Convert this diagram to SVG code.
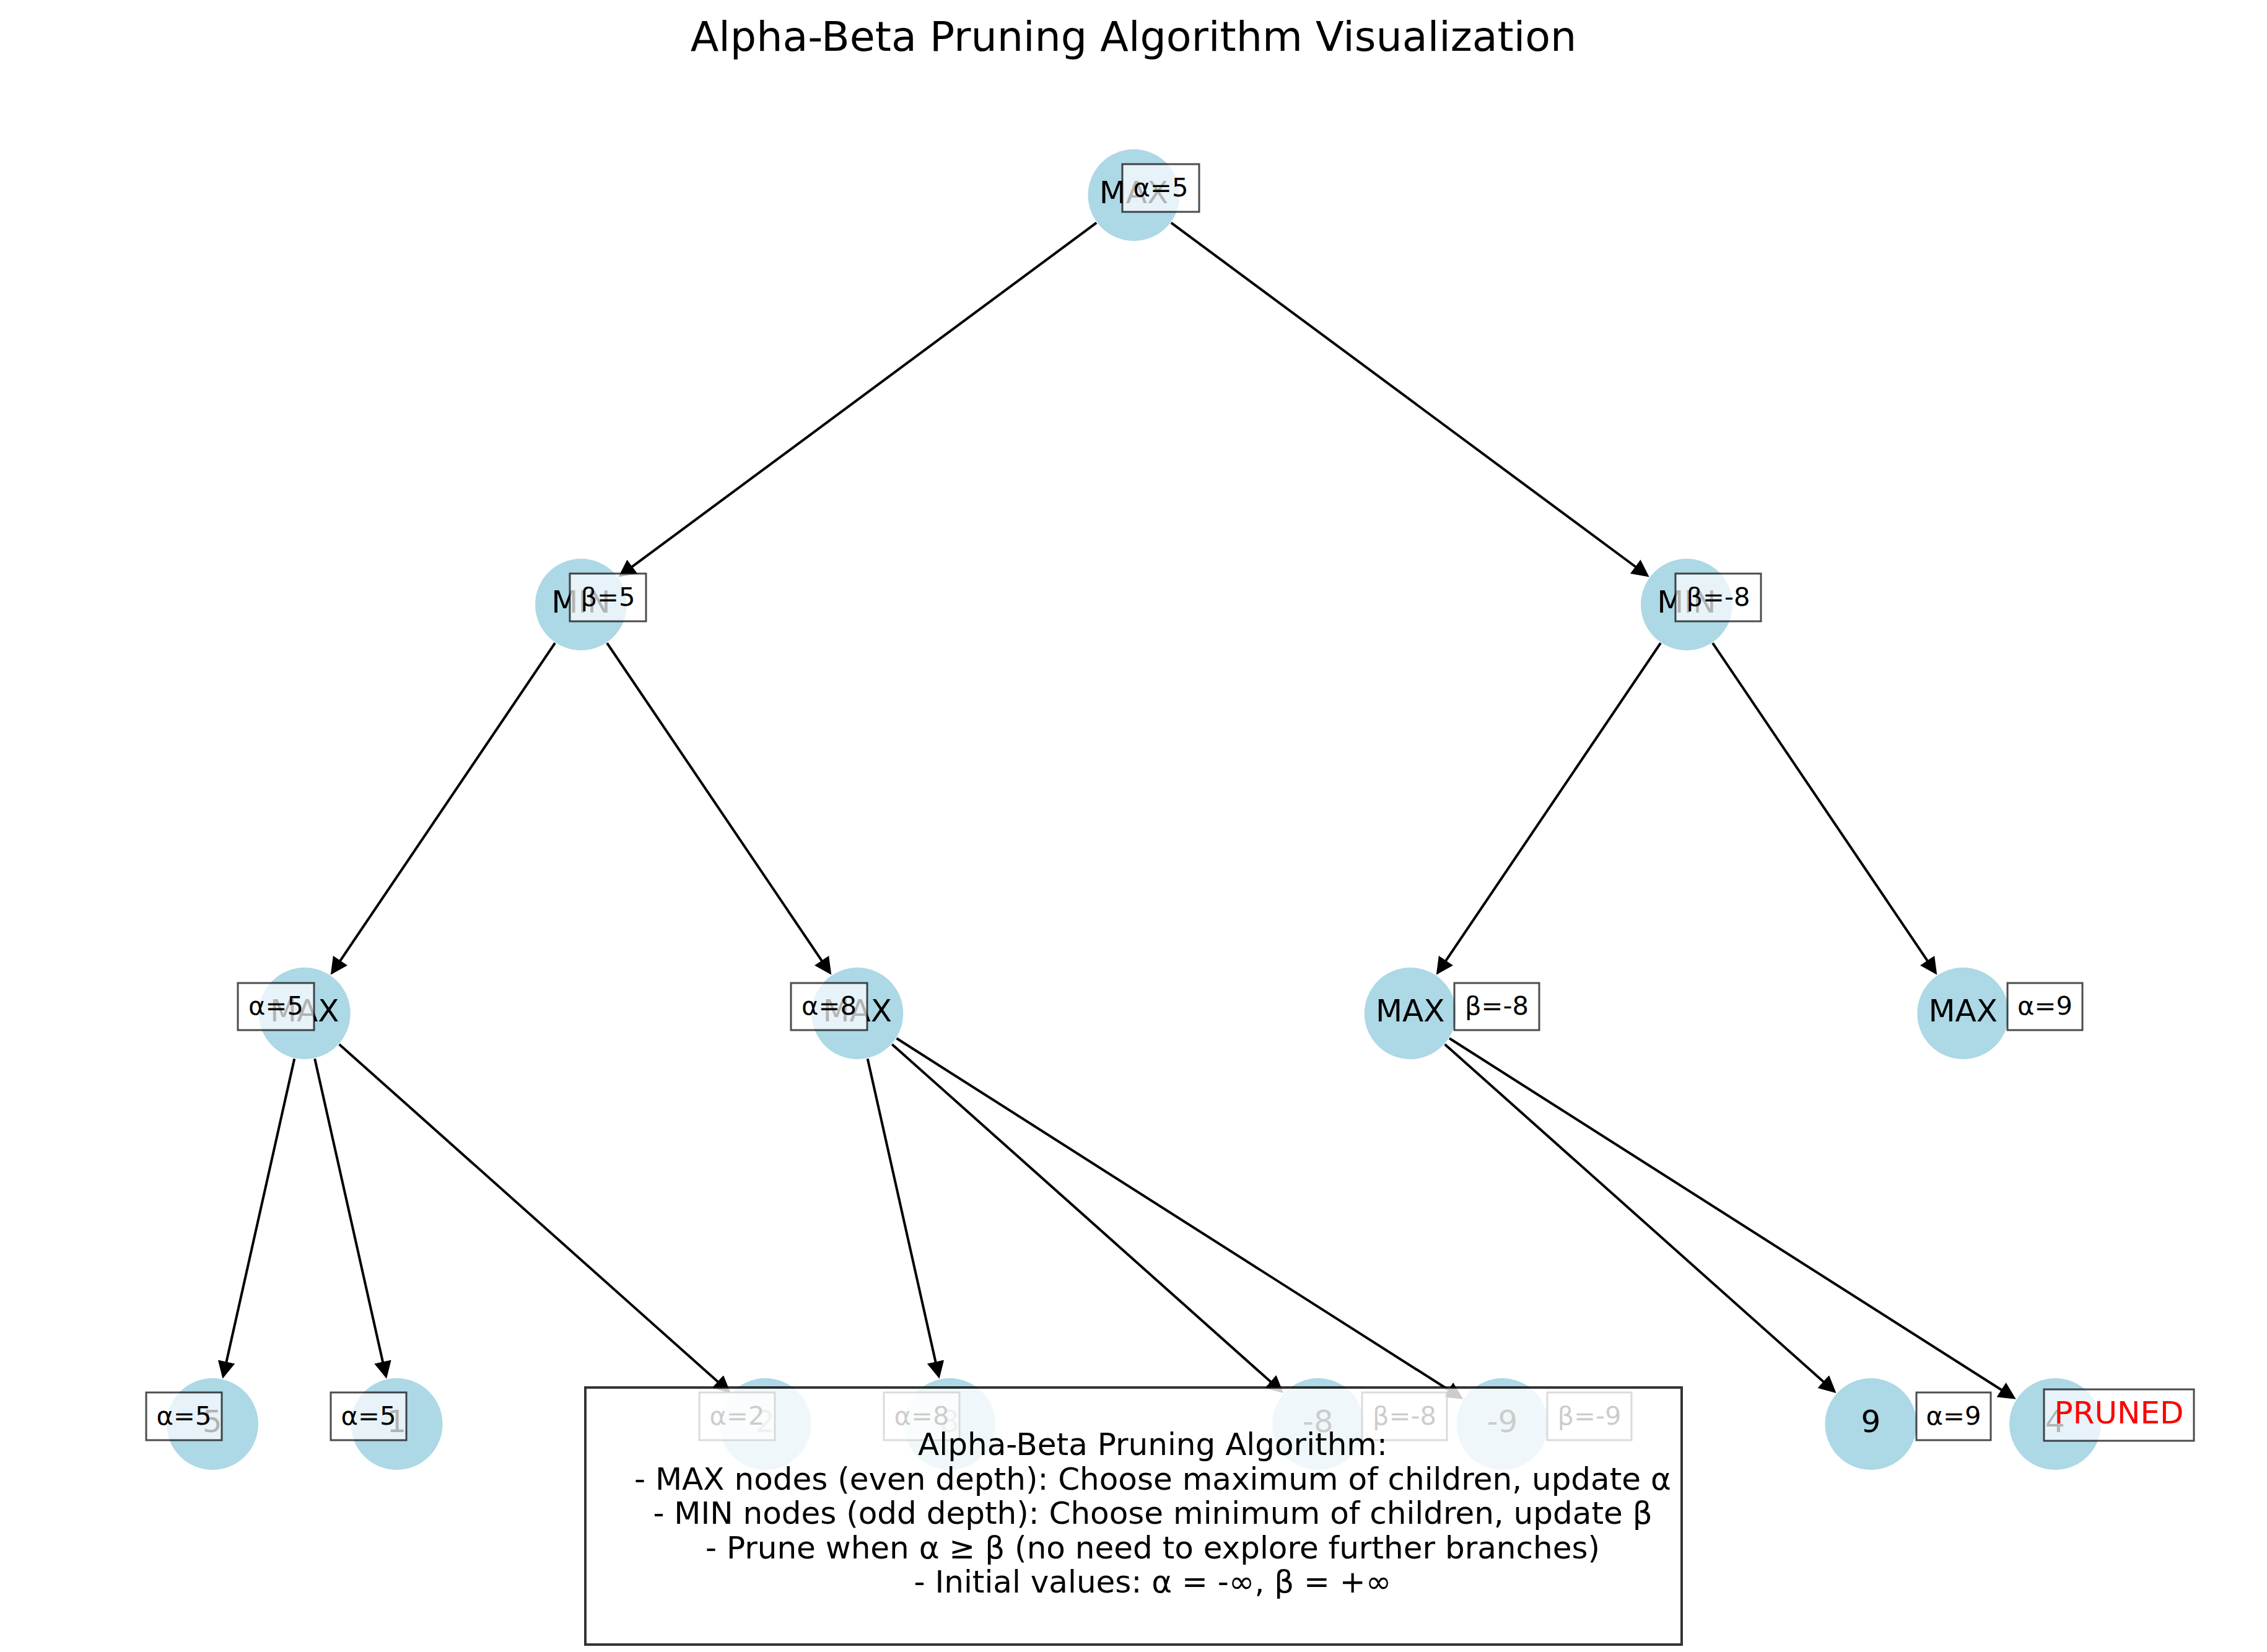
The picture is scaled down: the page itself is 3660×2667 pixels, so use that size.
<svg xmlns="http://www.w3.org/2000/svg" width="3660" height="2667" viewBox="0 0 3660 2667">
<style>
text{font-family:"DejaVu Sans","Liberation Sans",sans-serif;text-anchor:middle;fill:#000}
.nd{fill:#ADD8E6}
.lbl{font-size:50px}
.val{font-size:41.67px}
.box{fill:#fff;fill-opacity:0.7;stroke:#000;stroke-opacity:0.7;stroke-width:3}
.edge{stroke:#000;stroke-width:4;fill:none;marker-end:url(#ah)}
.title{font-size:66.7px}
.leg{font-size:50px}
</style>
<defs>
<marker id="ah" markerUnits="userSpaceOnUse" markerWidth="28" markerHeight="28" viewBox="0 -14 28 28" refX="8" refY="0" orient="auto">
<path d="M0,-14 L28,0 L0,14 Z" fill="#000"/>
</marker>
</defs>
<rect x="0" y="0" width="3660" height="2667" fill="#fff"/>
<text class="title" x="1830" y="82">Alpha-Beta Pruning Algorithm Visualization</text>
<g id="edges">
<line class="edge" x1="1770.2" y1="359.6" x2="1014.4" y2="919.5"/>
<line class="edge" x1="1890.8" y1="359.6" x2="2646.6" y2="919.5"/>
<line class="edge" x1="896.0" y1="1038.1" x2="545.0" y2="1557.3"/>
<line class="edge" x1="980.0" y1="1038.1" x2="1331.0" y2="1557.3"/>
<line class="edge" x1="2681.0" y1="1038.1" x2="2330.0" y2="1557.3"/>
<line class="edge" x1="2765.0" y1="1038.1" x2="3116.0" y2="1557.3"/>
<line class="edge" x1="475.3" y1="1709.2" x2="363.8" y2="2206.3"/>
<line class="edge" x1="508.2" y1="1709.2" x2="619.7" y2="2206.3"/>
<line class="edge" x1="547.7" y1="1685.9" x2="1164.6" y2="2235.8"/>
<line class="edge" x1="1400.7" y1="1709.2" x2="1512.2" y2="2206.3"/>
<line class="edge" x1="1440.2" y1="1685.9" x2="2057.1" y2="2235.8"/>
<line class="edge" x1="1447.5" y1="1676.3" x2="2345.3" y2="2248.0"/>
<line class="edge" x1="2332.7" y1="1685.9" x2="2949.6" y2="2235.8"/>
<line class="edge" x1="2340.0" y1="1676.3" x2="3237.8" y2="2248.0"/>
</g>
<g id="n-root">
<circle class="nd" cx="1830.5" cy="315" r="74"/>
<text class="lbl" x="1830.5" y="328">MAX</text>
<rect class="box" x="1812" y="265" width="124" height="77"/>
<text class="val" x="1874" y="317">α=5</text>
</g>
<g id="n-min-l">
<circle class="nd" cx="938" cy="976" r="74"/>
<text class="lbl" x="938" y="989">MIN</text>
<rect class="box" x="920" y="926" width="123" height="77"/>
<text class="val" x="981.5" y="978">β=5</text>
</g>
<g id="n-min-r">
<circle class="nd" cx="2723" cy="976" r="74"/>
<text class="lbl" x="2723" y="989">MIN</text>
<rect class="box" x="2705" y="926" width="138" height="77"/>
<text class="val" x="2774" y="978">β=-8</text>
</g>
<g id="n-max-1">
<circle class="nd" cx="491.75" cy="1636" r="74"/>
<text class="lbl" x="491.75" y="1649">MAX</text>
<rect class="box" x="384" y="1587" width="123" height="76"/>
<text class="val" x="445.5" y="1638">α=5</text>
</g>
<g id="n-max-2">
<circle class="nd" cx="1384.25" cy="1636" r="74"/>
<text class="lbl" x="1384.25" y="1649">MAX</text>
<rect class="box" x="1277" y="1587" width="123" height="76"/>
<text class="val" x="1338.5" y="1638">α=8</text>
</g>
<g id="n-max-3">
<circle class="nd" cx="2276.75" cy="1636" r="74"/>
<text class="lbl" x="2276.75" y="1649">MAX</text>
<rect class="box" x="2348" y="1587" width="137" height="76"/>
<text class="val" x="2416.5" y="1638">β=-8</text>
</g>
<g id="n-max-4">
<circle class="nd" cx="3169.25" cy="1636" r="74"/>
<text class="lbl" x="3169.25" y="1649">MAX</text>
<rect class="box" x="3241" y="1587" width="121" height="76"/>
<text class="val" x="3301.5" y="1638">α=9</text>
</g>
<g id="leaf-5">
<circle class="nd" cx="343" cy="2299" r="74"/>
<text class="lbl" x="343" y="2312">5</text>
<rect class="box" x="236" y="2248" width="122" height="77"/>
<text class="val" x="297" y="2300">α=5</text>
</g>
<g id="leaf-1">
<circle class="nd" cx="640.5" cy="2299" r="74"/>
<text class="lbl" x="640.5" y="2312">1</text>
<rect class="box" x="534" y="2248" width="122" height="77"/>
<text class="val" x="595" y="2300">α=5</text>
</g>
<g id="leaf-2">
<circle class="nd" cx="1235.5" cy="2299" r="74"/>
<text class="lbl" x="1235.5" y="2312">2</text>
<rect class="box" x="1129" y="2248" width="122" height="77"/>
<text class="val" x="1190" y="2300">α=2</text>
</g>
<g id="leaf-8">
<circle class="nd" cx="1533" cy="2299" r="74"/>
<text class="lbl" x="1533" y="2312">8</text>
<rect class="box" x="1427" y="2248" width="122" height="77"/>
<text class="val" x="1488" y="2300">α=8</text>
</g>
<g id="leaf-m8">
<circle class="nd" cx="2128" cy="2299" r="74"/>
<text class="lbl" x="2128" y="2312">-8</text>
<rect class="box" x="2199" y="2248" width="137" height="77"/>
<text class="val" x="2267.5" y="2300">β=-8</text>
</g>
<g id="leaf-m9">
<circle class="nd" cx="2425.5" cy="2299" r="74"/>
<text class="lbl" x="2425.5" y="2312">-9</text>
<rect class="box" x="2498" y="2248" width="136" height="77"/>
<text class="val" x="2566" y="2300">β=-9</text>
</g>
<g id="leaf-9">
<circle class="nd" cx="3020.5" cy="2299" r="74"/>
<text class="lbl" x="3020.5" y="2312">9</text>
<rect class="box" x="3094" y="2248" width="120" height="77"/>
<text class="val" x="3154" y="2300">α=9</text>
</g>
<g id="leaf-4">
<circle class="nd" cx="3318" cy="2299" r="74"/>
<text class="lbl" x="3318" y="2312">4</text>
<rect class="box" x="3300" y="2243" width="242" height="83"/>
<text class="lbl" x="3421" y="2298" fill="#ff0000" style="fill:#ff0000">PRUNED</text>
</g>
<g id="legend">
<rect x="945" y="2240" width="1770" height="415" fill="#fff" fill-opacity="0.8" stroke="#000" stroke-opacity="0.8" stroke-width="4"/>
<text class="leg" x="1861" y="2349">Alpha-Beta Pruning Algorithm:</text>
<text class="leg" x="1861" y="2404.5">- MAX nodes (even depth): Choose maximum of children, update α</text>
<text class="leg" x="1861" y="2460">- MIN nodes (odd depth): Choose minimum of children, update β</text>
<text class="leg" x="1861" y="2515.5">- Prune when α ≥ β (no need to explore further branches)</text>
<text class="leg" x="1861" y="2571">- Initial values: α = -∞, β = +∞</text>
</g>
</svg>
